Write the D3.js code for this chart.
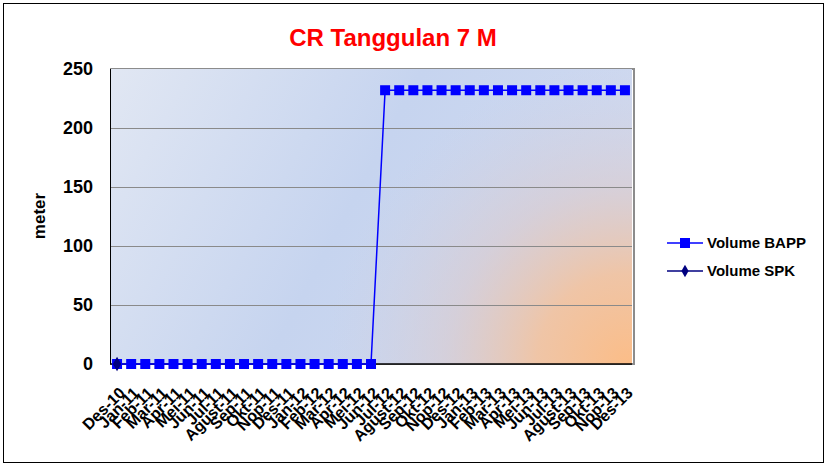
<!DOCTYPE html>
<html>
<head>
<meta charset="utf-8">
<script src="https://cdn.jsdelivr.net/npm/d3@7"></script>
<style>
  body { margin: 0; background: #fff; }
  text { font-family: "Liberation Sans", Arial, sans-serif; }
</style>
</head>
<body>
<svg id="chart" width="827" height="466"></svg>
<script>
// categories (months)
var months = ["Des-10",
  "Jan-11","Feb-11","Mar-11","Apr-11","Mei-11","Jun-11","Jul-11","Agust-11","Sep-11","Okt-11","Nop-11","Des-11",
  "Jan-12","Feb-12","Mar-12","Apr-12","Mei-12","Jun-12","Jul-12","Agust-12","Sep-12","Okt-12","Nop-12","Des-12",
  "Jan-13","Feb-13","Mar-13","Apr-13","Mei-13","Jun-13","Jul-13","Agust-13","Sep-13","Okt-13","Nop-13","Des-13"];
var volumeBAPP = [0,0,0,0,0,0,0,0,0,0,0,0,0,0,0,0,0,0,0,
  232,232,232,232,232,232,232,232,232,232,232,232,232,232,232,232,232,232];
var volumeSPK = [0];
var yTicks = [0, 50, 100, 150, 200, 250];

var svg = d3.select("#chart");
var margin = {top: 69, left: 110, right: 195, bottom: 102};
var width = 827 - margin.left - margin.right;
var height = 466 - margin.top - margin.bottom;

// outer frame
svg.append("rect").attr("x", 3.5).attr("y", 3.5).attr("width", 820).attr("height", 459)
  .attr("fill", "#fff").attr("stroke", "#000").attr("stroke-width", 1);

var defs = svg.append("defs");
var lg = defs.append("linearGradient").attr("id", "bgLin")
  .attr("x1", "0").attr("y1", "0").attr("x2", "1").attr("y2", "0.3");
lg.append("stop").attr("offset", "0").attr("stop-color", "#e1e7f3");
lg.append("stop").attr("offset", "0.55").attr("stop-color", "#c6d4ef");
lg.append("stop").attr("offset", "1").attr("stop-color", "#cfd9f0");
// radial glow, coordinates are in the plot group's space
var rg = defs.append("radialGradient").attr("id", "bgRad")
  .attr("gradientUnits", "userSpaceOnUse")
  .attr("cx", width - 5).attr("cy", height).attr("r", 300);
rg.append("stop").attr("offset", "0").attr("stop-color", "#fbbd88").attr("stop-opacity", 1);
rg.append("stop").attr("offset", "0.3").attr("stop-color", "#f2c3a0").attr("stop-opacity", 0.92);
rg.append("stop").attr("offset", "0.6").attr("stop-color", "#dcc9c9").attr("stop-opacity", 0.55);
rg.append("stop").attr("offset", "1").attr("stop-color", "#cfcfe0").attr("stop-opacity", 0);

var x = d3.scalePoint().domain(months).range([0, width]).padding(0.5);
var y = d3.scaleLinear().domain([0, 250]).range([height, 0]);

var g = svg.append("g").attr("transform", "translate(" + margin.left + "," + margin.top + ")");

// plot area with shadow border
g.append("rect").attr("x", 1).attr("y", 0).attr("width", width + 1).attr("height", height)
  .attr("fill", "none").attr("stroke", "#8c8c8c").attr("stroke-width", 2);
g.append("rect").attr("width", width).attr("height", height).attr("fill", "url(#bgLin)");
g.append("rect").attr("width", width).attr("height", height).attr("fill", "url(#bgRad)");

// gridlines
g.selectAll(".grid").data(yTicks.filter(function(d){ return d > 0 && d < 250; }))
  .enter().append("line")
  .attr("x1", 0).attr("x2", width)
  .attr("y1", function(d){ return Math.round(y(d)) + 0.5; })
  .attr("y2", function(d){ return Math.round(y(d)) + 0.5; })
  .attr("stroke", "#8a8a8a").attr("stroke-width", 1);

// axes lines
g.append("line").attr("x1", 0.5).attr("x2", 0.5).attr("y1", 0).attr("y2", height)
  .attr("stroke", "#000");
g.append("line").attr("x1", 0).attr("x2", width).attr("y1", height).attr("y2", height)
  .attr("stroke", "#000").attr("stroke-width", 1.5);

// y tick labels
g.selectAll(".ytick").data(yTicks).enter().append("text")
  .attr("x", -17).attr("y", function(d){ return y(d); }).attr("dy", "0.35em")
  .attr("text-anchor", "end").attr("font-size", 18).attr("font-weight", "bold")
  .text(function(d){ return d; });

// x tick labels
g.selectAll(".xtick").data(months).enter().append("text")
  .attr("transform", function(d){ return "translate(" + (x(d) + 5) + "," + (height + 26) + ") rotate(-45)"; })
  .attr("text-anchor", "end").attr("font-size", 16).attr("font-weight", "bold")
  .attr("dy", "0.35em")
  .text(function(d){ return d; });

// y axis title
svg.append("text").attr("transform", "translate(45,216) rotate(-90)")
  .attr("text-anchor", "middle").attr("font-size", 17).attr("font-weight", "bold")
  .text("meter");

// title
svg.append("text").attr("x", 393).attr("y", 46).attr("text-anchor", "middle")
  .attr("font-size", 24).attr("font-weight", "bold").attr("fill", "#ff0000")
  .text("CR Tanggulan 7 M");

// BAPP line
var line = d3.line().x(function(d, i){ return x(months[i]); }).y(function(d){ return y(d); });
g.append("path").datum(volumeBAPP).attr("d", line)
  .attr("fill", "none").attr("stroke", "#0000ff").attr("stroke-width", 1.5);
g.selectAll(".sq").data(volumeBAPP).enter().append("rect")
  .attr("x", function(d, i){ return x(months[i]) - 5; })
  .attr("y", function(d){ return y(d) - 5; })
  .attr("width", 10).attr("height", 10).attr("fill", "#0000ff");

// SPK
var diamond = d3.symbol().type(d3.symbolDiamond).size(60);
g.selectAll(".dm").data(volumeSPK).enter().append("path")
  .attr("d", diamond)
  .attr("transform", function(d, i){ return "translate(" + x(months[i]) + "," + y(d) + ")"; })
  .attr("fill", "#000080");

// legend
var legend = svg.append("g").attr("transform", "translate(667,243)");
legend.append("line").attr("x1", 0).attr("x2", 36).attr("y1", 0).attr("y2", 0)
  .attr("stroke", "#0000ff").attr("stroke-width", 1.5);
legend.append("rect").attr("x", 13).attr("y", -5).attr("width", 10).attr("height", 10).attr("fill", "#0000ff");
legend.append("text").attr("x", 40).attr("y", 0).attr("dy", "0.35em")
  .attr("font-size", 15).attr("font-weight", "bold").text("Volume BAPP");
legend.append("line").attr("x1", 0).attr("x2", 36).attr("y1", 28).attr("y2", 28)
  .attr("stroke", "#000080").attr("stroke-width", 1.5);
legend.append("path").attr("d", d3.symbol().type(d3.symbolDiamond).size(45))
  .attr("transform", "translate(18,28)").attr("fill", "#000080");
legend.append("text").attr("x", 40).attr("y", 28).attr("dy", "0.35em")
  .attr("font-size", 15).attr("font-weight", "bold").text("Volume SPK");
</script>
</body>
</html>
